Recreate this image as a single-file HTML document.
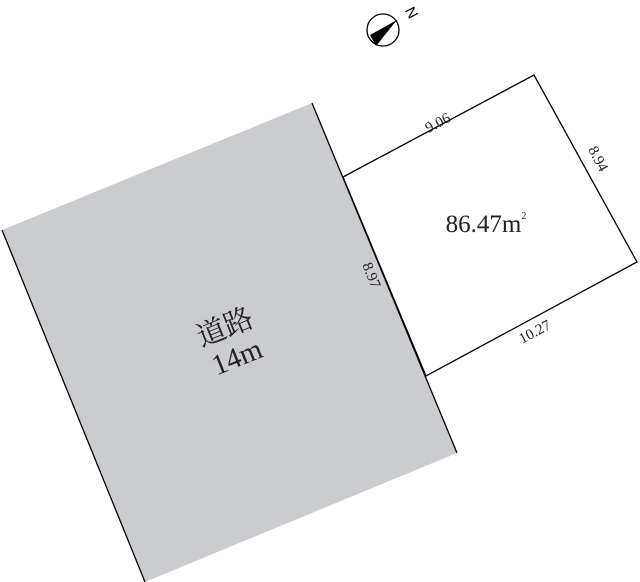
<!DOCTYPE html>
<html><head><meta charset="utf-8"><style>html,body{margin:0;padding:0;background:#fff}svg{display:block}</style></head>
<body>
<svg width="640" height="582" viewBox="0 0 640 582" xmlns="http://www.w3.org/2000/svg">
<polygon points="2,230 312,103 457,453 145,582" fill="#cbcccf"/>
<line x1="2" y1="230" x2="145" y2="582" stroke="#000" stroke-width="1.3"/>
<polygon points="343,177 534,75 637,262 426,376" fill="#fff" stroke="#000" stroke-width="1.3"/>
<line x1="312" y1="103" x2="457" y2="453" stroke="#000" stroke-width="1.3"/>
<g font-family="Liberation Serif, serif" fill="#222">
<text x="440" y="127" font-size="15" text-anchor="middle" transform="rotate(-28 440 127)">9.06</text>
<text x="594" y="161" font-size="15" text-anchor="middle" transform="rotate(62 594 161)">8.94</text>
<text x="367" y="277" font-size="15" text-anchor="middle" transform="rotate(68 367 277)">8.97</text>
<text x="537" y="336" font-size="15" text-anchor="middle" transform="rotate(-28 537 336)">10.27</text>
<text x="486" y="232" font-size="25" text-anchor="middle">86.47m<tspan font-size="10" dy="-13">2</tspan></text>
<g transform="rotate(-22 230 340)">
<text x="230" y="336" font-size="29" text-anchor="middle" font-family="Liberation Serif, 'Noto Serif CJK SC', serif">道路</text>
<text x="230" y="368" font-size="29" text-anchor="middle">14m</text>
</g>
</g>
<circle cx="383" cy="30" r="16" fill="#fff" stroke="#000" stroke-width="1.3"/>
<polygon points="397,20 370,35 376,46" fill="#000"/>
<text x="407" y="15" font-size="15" font-family="Liberation Sans, sans-serif" transform="rotate(62 407 15)" text-anchor="middle">N</text>
</svg>
</body></html>
